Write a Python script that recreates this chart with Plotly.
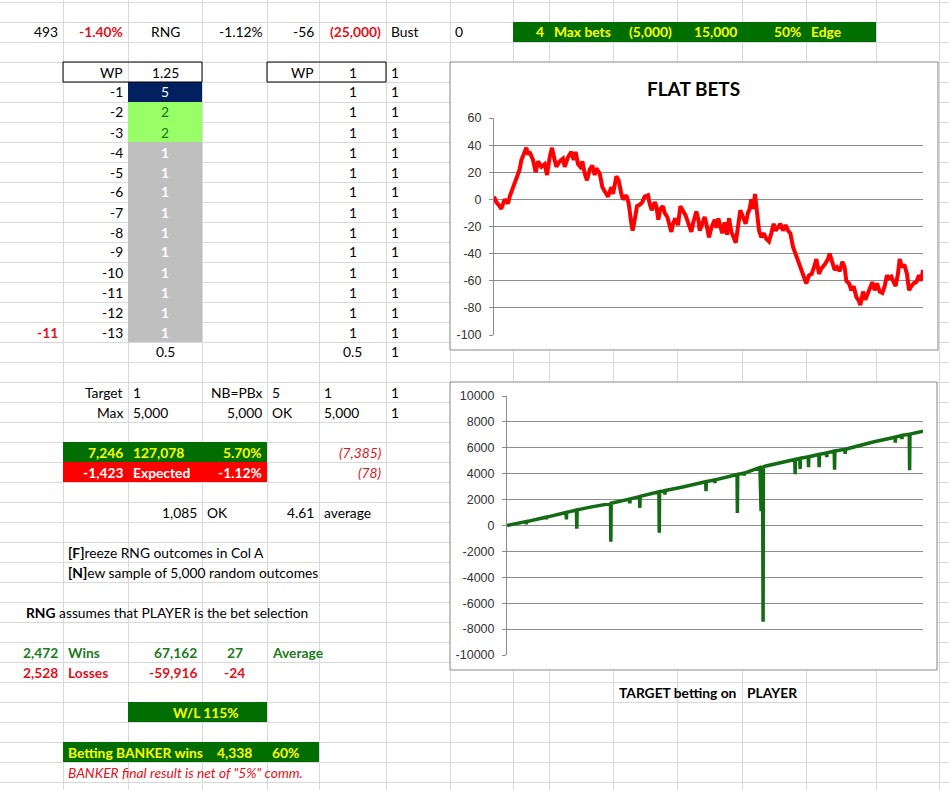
import plotly.graph_objects as go

# ---- chart data ----
FLAT_BET_NO = [0, 27, 66, 85, 124, 163, 183, 221, 260, 299,
               319, 346, 377, 396, 416, 455, 486, 513, 552, 591,
               618, 649, 676, 707, 727, 765, 804, 824, 862, 901,
               929, 952, 979, 1006, 1030, 1057, 1084, 1115, 1146, 1173,
               1193, 1232, 1263, 1290, 1329, 1368, 1387, 1426, 1453, 1484,
               1503, 1542, 1570, 1601, 1616, 1640, 1667, 1698, 1729, 1756,
               1795, 1814, 1838, 1873, 1892, 1915, 1939, 1970, 1989, 2020,
               2047, 2067, 2086, 2113, 2144, 2172, 2199, 2234, 2261, 2300,
               2319, 2358, 2382, 2397, 2417, 2455, 2475, 2506, 2533, 2572,
               2591, 2615, 2638, 2661, 2688, 2716, 2739, 2766, 2793, 2817,
               2844, 2871, 2902, 2933, 2960, 2980, 2999, 3022, 3042, 3057,
               3089, 3116, 3143, 3174, 3205, 3232, 3259, 3283, 3310, 3337,
               3368, 3399, 3427, 3454, 3485, 3524, 3563, 3601, 3640, 3671,
               3702, 3730, 3757, 3788, 3815, 3854, 3893, 3912, 3943, 3970,
               3998, 4029, 4060, 4087, 4106, 4138, 4165, 4192, 4223, 4246,
               4270, 4301, 4328, 4359, 4386, 4409, 4437, 4464, 4495, 4526,
               4553, 4580, 4603, 4631, 4658, 4681, 4708, 4728, 4755, 4782,
               4813, 4837, 4864, 4891, 4922, 4953, 4980, 5000]
FLAT_BET_PL = [2, -2, -5, -7, 0, -3, 2, 9, 14, 22,
               29, 34, 38, 33, 35, 29, 20, 28, 24, 26,
               18, 31, 38, 29, 24, 28, 30, 24, 31, 35,
               29, 35, 26, 24, 28, 19, 14, 22, 25, 18,
               23, 19, 9, 6, 2, 9, 4, 17, 14, 4,
               0, 3, -3, -18, -23, -15, -5, -4, -2, 2,
               3, -3, -8, -2, -5, -15, -7, -5, -10, -13,
               -21, -24, -18, -14, -19, -5, -8, -12, -17, -24,
               -18, -9, -15, -23, -20, -13, -18, -28, -21, -15,
               -21, -14, -20, -25, -17, -26, -14, -24, -28, -32,
               -20, -8, -13, -18, -10, -7, 0, -7, 4, -3,
               -23, -28, -25, -29, -31, -25, -18, -23, -20, -18,
               -23, -19, -23, -25, -35, -42, -47, -55, -62, -56,
               -55, -50, -44, -55, -51, -48, -44, -40, -47, -52,
               -50, -53, -46, -50, -60, -62, -67, -64, -72, -74,
               -78, -68, -74, -69, -64, -61, -67, -62, -68, -69,
               -64, -56, -58, -57, -61, -64, -55, -44, -50, -48,
               -55, -67, -64, -62, -61, -56, -60, -52]

TARGET_BET_NO = [0, 120, 230, 233, 236, 470, 474, 478, 710, 714,
                 718, 835, 839, 843, 1000, 1244, 1248, 1252, 1473, 1477,
                 1481, 1593, 1597, 1601, 1826, 1830, 1834, 1894, 1898, 1902,
                 2100, 2388, 2392, 2396, 2496, 2500, 2504, 2765, 2769, 2773,
                 2849, 2853, 2857, 3040, 3044, 3050, 3054, 3060, 3064, 3072,
                 3076, 3078, 3082, 3100, 3300, 3459, 3463, 3467, 3519, 3523,
                 3527, 3620, 3624, 3628, 3748, 3752, 3756, 3840, 3844, 3848,
                 3933, 3937, 3941, 4061, 4065, 4069, 4400, 4663, 4667, 4671,
                 4743, 4747, 4751, 4835, 4839, 4843, 5000]
TARGET_BET_PL = [0, 130, 300, 100, 300, 640, 480, 650, 1000, 460,
                 1010, 1200, -250, 1210, 1420, 1700, -1250, 1720, 2040, 1700,
                 2060, 2230, 1360, 2250, 2600, -560, 2610, 2680, 2380, 2700,
                 2960, 3380, 2640, 3390, 3520, 3280, 3530, 3940, 970, 3950,
                 4050, 3850, 4060, 4480, 1150, 4450, 1100, 4480, 1150, 4500,
                 -4000, -7440, 4520, 4580, 4850, 5100, 3970, 5110, 5180, 4360,
                 5190, 5300, 4510, 5310, 5480, 4510, 5490, 5600, 5280, 5610,
                 5750, 4300, 5760, 5880, 5540, 5890, 6450, 6820, 6400, 6830,
                 6950, 6670, 6960, 7050, 4260, 7060, 7280]

FLAT_TICKS = [-100, -80, -60, -40, -20, 0, 20, 40, 60]
TARGET_TICKS = [-10000, -8000, -6000, -4000, -2000, 0, 2000, 4000, 6000, 8000, 10000]

# ---- sheet contents ----
LADDER_STEPS = [-1, -2, -3, -4, -5, -6, -7, -8, -9, -10, -11, -12, -13]
WP_UNITS = [5, 2, 2, 1, 1, 1, 1, 1, 1, 1, 1, 1, 1]
FLAT_UNITS = [1, 1, 1, 1, 1, 1, 1, 1, 1, 1, 1, 1, 1]
FLAT_FLAGS = [1, 1, 1, 1, 1, 1, 1, 1, 1, 1, 1, 1, 1]

W, H = 949, 790
COLS = [0, 63, 128, 202, 267, 319, 386, 450, 513, 549, 613, 677, 742, 806, 876, 939, 949]
ROW_TOP, ROW_H = 2, 20
FONT = "Lato"
FS = 13.8
GREEN_FILL = "#006E00"
YELLOW = "#FFFF00"
RED_TXT = "#E3101A"
GREEN_TXT = "#1D7A1D"


def px(x):
    return x / W


def py(y):
    return 1 - y / H


shapes = []
annotations = []


def rect(x0, y0, x1, y1, fill=None, line=None):
    shapes.append(dict(type="rect", xref="paper", yref="paper", layer="below",
                       x0=px(x0), x1=px(x1), y0=py(y0), y1=py(y1),
                       fillcolor=fill or "rgba(0,0,0,0)",
                       line=dict(color=line or "rgba(0,0,0,0)", width=1 if line else 0)))


def cell(row, col, text, align="right", color="black", bold=False, italic=False, size=FS):
    if bold:
        text = "<b>" + text + "</b>"
    if italic:
        text = "<i>" + text + "</i>"
    if align == "left":
        x = COLS[col] + 3
    elif align == "right":
        x = COLS[col + 1] - 3
    else:
        x = (COLS[col] + COLS[col + 1]) / 2
    y = ROW_TOP + ROW_H * row + ROW_H / 2
    annotations.append(dict(x=px(x), y=py(y), xref="paper", yref="paper", text=text,
                            showarrow=False, xanchor=align, yanchor="middle",
                            font=dict(family=FONT, size=size, color=color)))


def row_fill(row, c0, c1, color, nrows=1):
    rect(COLS[c0], ROW_TOP + ROW_H * row, COLS[c1], ROW_TOP + ROW_H * (row + nrows), fill=color)


# gridlines of the sheet
for y in range(ROW_TOP, H, ROW_H):
    shapes.append(dict(type="line", xref="paper", yref="paper", layer="below",
                       x0=0, x1=1, y0=py(y + 0.5), y1=py(y + 0.5),
                       line=dict(color="#D9D9D9", width=1)))
for x in COLS[1:-1]:
    shapes.append(dict(type="line", xref="paper", yref="paper", layer="below",
                       x0=px(x + 0.5), x1=px(x + 0.5), y0=0, y1=1,
                       line=dict(color="#D9D9D9", width=1)))

# filled cells
row_fill(1, 8, 14, GREEN_FILL)
row_fill(4, 2, 3, "#002060")
row_fill(5, 2, 3, "#99FF66", 2)
row_fill(7, 2, 3, "#BFBFBF", 10)
row_fill(22, 1, 4, GREEN_FILL)
row_fill(23, 1, 4, "#FF0000")
row_fill(35, 2, 4, GREEN_FILL)
row_fill(37, 1, 5, GREEN_FILL)
rect(COLS[1], 62, COLS[3], 82, line="black")
rect(COLS[4], 62, COLS[6], 82, line="black")

# chart boxes
rect(450, 62, 938, 350, fill="white", line="#888888")
rect(450, 382, 937, 670, fill="white", line="#888888")

# top row
cell(1, 0, "493")
cell(1, 1, "-1.40%", color=RED_TXT, bold=True)
cell(1, 2, "RNG", "center")
cell(1, 3, "-1.12%")
cell(1, 4, "-56")
cell(1, 5, "(25,000)", color=RED_TXT, bold=True)
cell(1, 6, "Bust", "left")
cell(1, 7, "0", "left")
cell(1, 8, "4", color=YELLOW, bold=True)
cell(1, 9, "Max bets", "left", color=YELLOW, bold=True)
cell(1, 10, "(5,000)", color=YELLOW, bold=True)
cell(1, 11, "15,000", color=YELLOW, bold=True)
cell(1, 12, "50%", color=YELLOW, bold=True)
cell(1, 13, "Edge", "left", color=YELLOW, bold=True)

# ladders
cell(3, 1, "WP")
cell(3, 2, "1.25", "center")
cell(3, 4, "WP")
cell(3, 5, "1", "center")
cell(3, 6, "1", "left")
for i, step in enumerate(LADDER_STEPS):
    r = 4 + i
    cell(r, 1, str(step))
    u = WP_UNITS[i]
    ucol = "white" if (u != 2) else "#127812"
    cell(r, 2, str(u), "center", color=ucol, bold=(i >= 3))
    cell(r, 5, str(FLAT_UNITS[i]), "center")
    cell(r, 6, str(FLAT_FLAGS[i]), "left")
cell(16, 0, "-11", color=RED_TXT, bold=True)
cell(17, 2, "0.5", "center")
cell(17, 5, "0.5", "center")
cell(17, 6, "1", "left")

cell(19, 1, "Target")
cell(19, 2, "1", "left")
cell(19, 3, "NB=PBx")
cell(19, 4, "5", "left")
cell(19, 5, "1", "left")
cell(19, 6, "1", "left")
cell(20, 1, "Max")
cell(20, 2, "5,000", "left")
cell(20, 3, "5,000")
cell(20, 4, "OK", "left")
cell(20, 5, "5,000", "left")
cell(20, 6, "1", "left")

cell(22, 1, "7,246", color=YELLOW, bold=True)
cell(22, 2, "127,078", "left", color=YELLOW, bold=True)
cell(22, 3, "5.70%", color=YELLOW, bold=True)
cell(22, 5, "(7,385)", color=RED_TXT, italic=True)
cell(23, 1, "-1,423", color="white", bold=True)
cell(23, 2, "Expected", "left", color="white", bold=True)
cell(23, 3, "-1.12%", color="white", bold=True)
cell(23, 5, "(78)", color=RED_TXT, italic=True)

cell(25, 2, "1,085")
cell(25, 3, "OK", "left")
cell(25, 4, "4.61")
cell(25, 5, "average", "left")

cell(27, 1, "<b>[F]</b>reeze RNG outcomes in Col A", "left")
cell(28, 1, "<b>[N]</b>ew sample of 5,000 random outcomes", "left")
annotations.append(dict(x=px(24), y=py(612), xref="paper", yref="paper",
                        text="<b>RNG</b> assumes that PLAYER is the bet selection",
                        showarrow=False, xanchor="left", yanchor="middle",
                        font=dict(family=FONT, size=FS, color="black")))

cell(32, 0, "2,472", color=GREEN_TXT, bold=True)
cell(32, 1, "Wins", "left", color=GREEN_TXT, bold=True)
cell(32, 2, "67,162", color=GREEN_TXT, bold=True)
cell(32, 3, "27", "center", color=GREEN_TXT, bold=True)
cell(32, 4, "Average", "left", color=GREEN_TXT, bold=True)
cell(33, 0, "2,528", color=RED_TXT, bold=True)
cell(33, 1, "Losses", "left", color=RED_TXT, bold=True)
cell(33, 2, "-59,916", color=RED_TXT, bold=True)
cell(33, 3, "-24", "center", color=RED_TXT, bold=True)

annotations.append(dict(x=px(206), y=py(712), xref="paper", yref="paper",
                        text="<b>W/L 115%</b>", showarrow=False, xanchor="center",
                        yanchor="middle", font=dict(family=FONT, size=FS, color=YELLOW)))
cell(37, 1, "Betting BANKER wins", "left", color=YELLOW, bold=True)
cell(37, 3, "4,338", "center", color=YELLOW, bold=True)
cell(37, 4, "60%", "left", color=YELLOW, bold=True)
cell(38, 1, "BANKER final result is net of \"5%\" comm.", "left", color=RED_TXT, italic=True)

cell(34, 11, "TARGET betting on", bold=True)
cell(34, 12, "PLAYER", "left", bold=True)

# chart title
annotations.append(dict(x=px(693), y=py(88), xref="paper", yref="paper",
                        text="<b>FLAT BETS</b>", showarrow=False, xanchor="center",
                        yanchor="middle", font=dict(family=FONT, size=19, color="black")))

fig = go.Figure()
fig.add_trace(go.Scatter(x=FLAT_BET_NO, y=FLAT_BET_PL, mode="lines",
                         line=dict(color="#FF0000", width=4), xaxis="x", yaxis="y"))
fig.add_trace(go.Scatter(x=TARGET_BET_NO, y=TARGET_BET_PL, mode="lines",
                         line=dict(color="#136B13", width=3.5), xaxis="x2", yaxis="y2"))

axis_font = dict(family="Liberation Sans", size=12.5, color="#333333")
yaxis_common = dict(showgrid=True, gridcolor="#8C8C8C", gridwidth=1, zeroline=False,
                    showline=True, linecolor="#8C8C8C", ticks="outside", ticklen=4,
                    tickcolor="#8C8C8C", tickfont=axis_font, fixedrange=True,
                    ticklabelstandoff=5)
xaxis_common = dict(showgrid=False, zeroline=False, showline=False, showticklabels=False,
                    ticks="", range=[0, 5000], fixedrange=True)

fig.update_layout(
    width=W, height=H, margin=dict(l=0, r=0, t=0, b=0, autoexpand=False),
    paper_bgcolor="white", plot_bgcolor="rgba(0,0,0,0)", showlegend=False,
    xaxis=dict(domain=[px(494), px(923)], anchor="y", **xaxis_common),
    yaxis=dict(domain=[py(335), py(118)], anchor="x", range=[-100, 60],
               tickvals=FLAT_TICKS, ticktext=[str(t) for t in FLAT_TICKS], **yaxis_common),
    xaxis2=dict(domain=[px(507), px(923)], anchor="y2", **xaxis_common),
    yaxis2=dict(domain=[py(655), py(396)], anchor="x2", range=[-10000, 10000],
                tickvals=TARGET_TICKS, ticktext=[str(t) for t in TARGET_TICKS], **yaxis_common),
    shapes=shapes, annotations=annotations,
)

page_css = ("document.documentElement.style.margin='0';"
            "document.body.style.margin='0';"
            "document.body.style.padding='0';"
            "document.documentElement.style.overflow='hidden';"
            "document.body.style.overflow='hidden';")
fig.write_html("out.html", config={"displayModeBar": False}, post_script=page_css)
